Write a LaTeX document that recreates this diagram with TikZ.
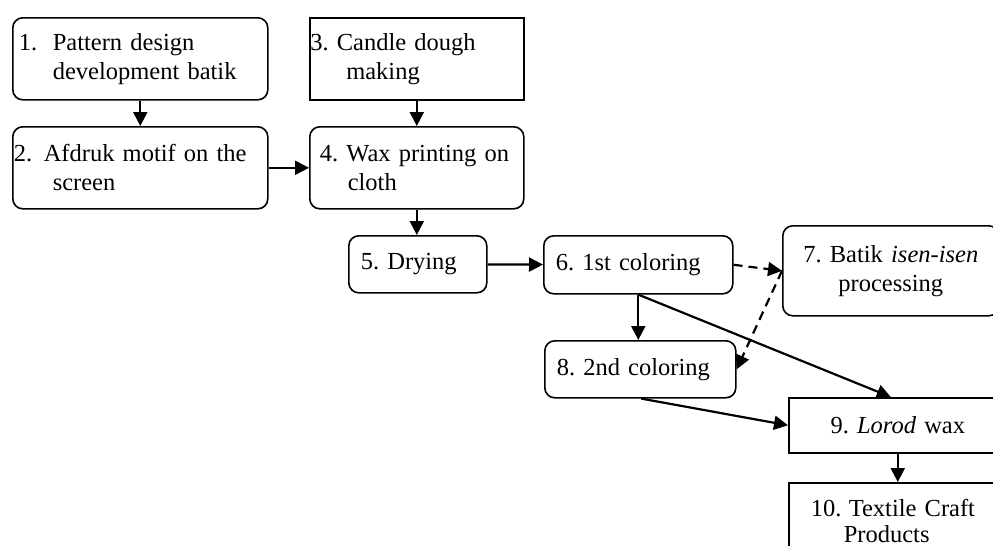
\documentclass[tikz,border=0pt]{standalone}
\usepackage{fontspec}
\setmainfont{Liberation Serif}
\usetikzlibrary{arrows.meta}
\frenchspacing

\begin{document}
\begin{tikzpicture}[x=1pt,y=-1pt]

% Define styles
\tikzstyle{stage}=[draw, line width=1.6pt, rounded corners=10pt, anchor=north west, inner ysep=0pt, align=left, font=\fontsize{24.5}{29}\selectfont]
\tikzstyle{plainstage}=[stage, sharp corners]
\tikzstyle{flow}=[line width=2.2pt, -{Triangle[length=14pt,width=14pt]}]
\tikzstyle{maybe}=[flow, dash pattern=on 9pt off 6pt]

\clip (0,0) rectangle (993,546);

% Boxes
\node[stage, minimum width=255pt, minimum height=82pt, inner xsep=6pt, text width=243pt] (n1) at (12,17)
  {\makebox[34pt][l]{1.}Pattern design\\\hspace*{34pt}development batik};
\node[plainstage, minimum width=214pt, minimum height=82pt, inner xsep=0.5pt, text width=213pt] (n3) at (309,17)
  {3. Candle dough\\\hspace*{36pt}making};
\node[stage, minimum width=255pt, minimum height=82pt, inner xsep=1pt, text width=253pt] (n2) at (12,126)
  {\makebox[30pt][l]{2.}Afdruk motif on the\\\hspace*{39pt}screen};
\node[stage, minimum width=214pt, minimum height=82pt, inner xsep=10pt, text width=194pt] (n4) at (309,126)
  {4. Wax printing on\\\hspace*{28pt}cloth};
\node[stage, minimum width=138pt, minimum height=57pt, inner xsep=12pt, text width=114pt] (n5) at (348,235)
  {5. Drying};
\node[stage, minimum width=189pt, minimum height=58pt, inner xsep=12pt, text width=165pt] (n6) at (543,235)
  {6. 1st coloring};
\node[stage, minimum width=216pt, minimum height=90pt, inner xsep=6pt, text width=204pt, align=center] (n7) at (782,225)
  {\rule{0pt}{14pt}7. Batik \textit{isen-isen}\\processing};
\node[stage, minimum width=191pt, minimum height=57pt, inner xsep=12pt, text width=167pt] (n8) at (544,340)
  {8. 2nd coloring};
\node[plainstage, minimum width=218pt, minimum height=55pt, inner xsep=6pt, text width=206pt, align=center] (n9) at (788,397)
  {9. \textit{Lorod} wax};
\node[plainstage, minimum width=218pt, minimum height=76pt, inner xsep=22pt, text width=174pt] (n10) at (788,482)
  {\makebox[38pt][l]{10.}Textile Craft\\[-3pt]\hspace*{33pt}Products};

% Arrows
\draw[flow] (n1) -- (n2);
\draw[flow] (n3) -- (n4);
\draw[flow] (n2) -- (n4);
\draw[flow] (n4.south) -- (n4.south |- n5.north);
\draw[flow] (n5) -- (n6);
\draw[maybe] (n6.east) -- (n7.west);
\draw[maybe] (n7.west) -- (n8.east);
\draw[flow] (n6.south) -- (n6.south |- n8.north);
\draw[flow] (n6.south) -- ([xshift=-7pt]n9.north);
\draw[flow] ([xshift=1pt]n8.south) -- (n9.west);
\draw[flow] (n9) -- (n10);

\end{tikzpicture}
\end{document}
